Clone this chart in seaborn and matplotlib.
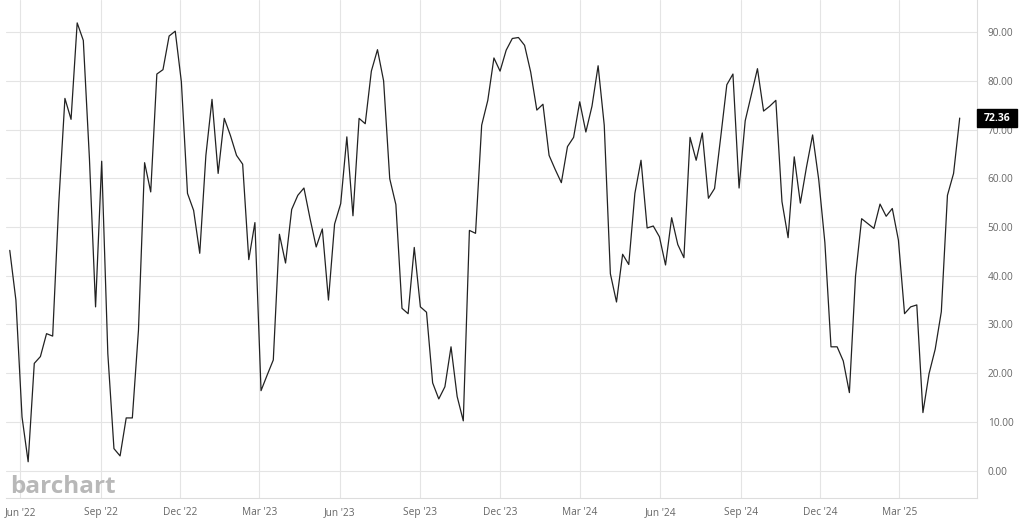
import pandas as pd
import matplotlib.pyplot as plt
import matplotlib.dates as mdates
import matplotlib.transforms as mtransforms
from matplotlib.patches import Rectangle
import seaborn as sns

# Configurazione grafica
sns.set_theme(style="whitegrid")
plt.rcParams['font.family'] = ['Open Sans', 'DejaVu Sans']

# Dati settimanali
data_fine = '2025-05-09'
n_settimane = 156
valori = [
    45.2, 35.0, 11.0, 1.8, 22.0, 23.4, 28.1, 27.6, 55.0, 76.4,
    72.1, 91.9, 88.3, 64.0, 33.6, 63.5, 24.0, 4.5, 3.0, 10.8,
    10.8, 28.8, 63.2, 57.2, 81.4, 82.3, 89.2, 90.2, 79.8, 56.9,
    53.4, 44.6, 64.7, 76.2, 61.0, 72.3, 68.8, 64.7, 62.9, 43.3,
    50.9, 16.4, 19.6, 22.7, 48.5, 42.6, 53.6, 56.5, 58.0, 51.7,
    45.9, 49.6, 35.0, 50.6, 54.8, 68.5, 52.3, 72.3, 71.2, 82.0,
    86.4, 80.0, 59.9, 54.6, 33.3, 32.2, 45.8, 33.6, 32.5, 18.0,
    14.7, 17.2, 25.4, 15.2, 10.2, 49.3, 48.7, 70.9, 76.0, 84.7,
    82.0, 86.3, 88.7, 88.9, 87.3, 81.8, 74.0, 75.2, 64.7, 61.8,
    59.1, 66.5, 68.4, 75.7, 69.5, 74.8, 83.1, 70.9, 40.4, 34.6,
    44.4, 42.3, 56.9, 63.7, 49.8, 50.2, 48.0, 42.2, 51.9, 46.4,
    43.7, 68.4, 63.7, 69.3, 55.9, 57.9, 68.4, 79.2, 81.4, 58.0,
    71.8, 77.2, 82.5, 73.8, 74.8, 76.0, 55.2, 47.8, 64.4, 54.9,
    62.3, 68.9, 59.7, 46.8, 25.4, 25.4, 22.5, 16.0, 39.9, 51.7,
    50.7, 49.7, 54.7, 52.2, 53.8, 47.3, 32.2, 33.6, 34.0, 11.9,
    19.9, 24.9, 32.6, 56.5, 61.0, 72.36,
]
date = pd.date_range(end=data_fine, periods=n_settimane, freq='W-FRI')
df = pd.DataFrame({'data': date, 'valore': valori})
ultimo = valori[-1]

fig = plt.figure(figsize=(10.24, 5.26), dpi=100)
ax = fig.add_axes([6 / 1024, 27.7 / 526, 971.3 / 1024, 498.3 / 526])

sns.lineplot(data=df, x='data', y='valore', ax=ax, color='#222222', linewidth=0.9)

# Assi
ax.set_xlim(pd.Timestamp('2022-06-01') - pd.Timedelta(days=16.3),
            pd.Timestamp('2025-03-01') + pd.Timedelta(days=89.1))
ax.set_ylim(-5.7, 96.6)
ax.set_yticks(range(0, 100, 10))
ax.yaxis.tick_right()
ax.yaxis.set_major_formatter(plt.FuncFormatter(lambda v, p: f'{v:.2f}'))
ax.xaxis.set_major_locator(mdates.MonthLocator(bymonth=[3, 6, 9, 12]))
ax.xaxis.set_major_formatter(mdates.DateFormatter("%b '%y"))
ax.tick_params(axis='y', length=0, pad=7.5, labelsize=7.3, labelcolor='#666666')
ax.tick_params(axis='x', length=0, pad=6, labelsize=7.3, labelcolor='#666666')
ax.set_xlabel('')
ax.set_ylabel('')
ax.grid(True, color='#e4e4e4', linewidth=0.8)
ax.set_facecolor('white')
for lato in ['left', 'top']:
    ax.spines[lato].set_visible(False)
for lato in ['right', 'bottom']:
    ax.spines[lato].set_visible(True)
    ax.spines[lato].set_color('#dddddd')
    ax.spines[lato].set_linewidth(0.8)

# Etichetta ultimo valore
trans = mtransforms.blended_transform_factory(ax.transAxes, ax.transData)
ax.add_patch(Rectangle((1.0, ultimo - 1.85), 40 / 971.3, 3.7, transform=trans,
                       facecolor='black', edgecolor='black', clip_on=False, zorder=5))
ax.text(1.0 + 20 / 971.3, ultimo, f'{ultimo:.2f}', transform=trans, ha='center',
        va='center', color='white', fontsize=7.5, fontweight='bold', zorder=6, clip_on=False)

# Watermark
fig.text(10 / 1024, 1 - 493 / 526, 'barchart', fontsize=17.5, fontweight='bold',
         color='#b8b8b8', ha='left', va='baseline')

plt.savefig('out.png', dpi=100)
plt.close()
